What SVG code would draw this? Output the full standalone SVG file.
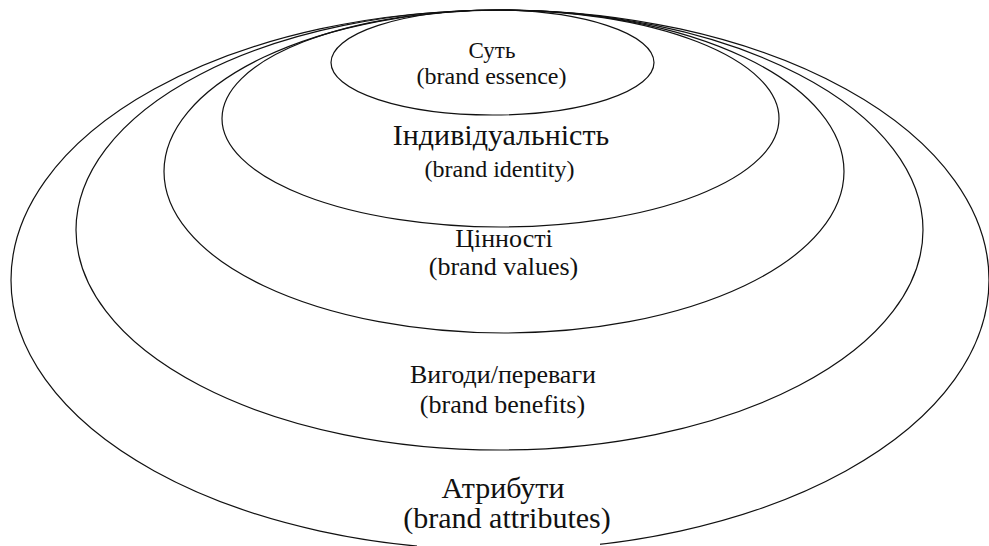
<svg xmlns="http://www.w3.org/2000/svg" width="989" height="546" viewBox="0 0 989 546">
  <style>
    .ring { fill: none; stroke: #111; stroke-width: 1.2; }
  </style>
  <rect x="0" y="0" width="989" height="546" fill="#fff"/>
  <g id="attributes">
    <ellipse class="ring" cx="500" cy="280" rx="489" ry="270"/>
    <rect x="417" y="462" width="183" height="84" fill="#fff"/>
    <text x="503" y="498" font-size="30" text-anchor="middle" fill="#111" font-family="Liberation Serif" style="font-family:'Liberation Serif',serif">Атрибути</text>
    <text x="507" y="528" font-size="30" text-anchor="middle" fill="#111" font-family="Liberation Serif" style="font-family:'Liberation Serif',serif">(brand attributes)</text>
  </g>
  <g id="benefits">
    <ellipse class="ring" cx="499.5" cy="230" rx="423.5" ry="220"/>
    <text x="503" y="383" font-size="26" text-anchor="middle" fill="#111" font-family="Liberation Serif" style="font-family:'Liberation Serif',serif">Вигоди/переваги</text>
    <text x="502.5" y="413" font-size="26" text-anchor="middle" fill="#111" font-family="Liberation Serif" style="font-family:'Liberation Serif',serif">(brand benefits)</text>
  </g>
  <g id="values">
    <ellipse class="ring" cx="504" cy="171.5" rx="340" ry="161.5"/>
    <text x="504" y="247" font-size="26" text-anchor="middle" fill="#111" font-family="Liberation Serif" style="font-family:'Liberation Serif',serif">Цінності</text>
    <text x="503.5" y="275" font-size="26" text-anchor="middle" fill="#111" font-family="Liberation Serif" style="font-family:'Liberation Serif',serif">(brand values)</text>
  </g>
  <g id="identity">
    <ellipse class="ring" cx="500.5" cy="118.5" rx="278.5" ry="108.5"/>
    <text x="501" y="145" font-size="30" text-anchor="middle" fill="#111" font-family="Liberation Serif" style="font-family:'Liberation Serif',serif">Індивідуальність</text>
    <text x="499.5" y="177" font-size="24" text-anchor="middle" fill="#111" font-family="Liberation Serif" style="font-family:'Liberation Serif',serif">(brand identity)</text>
  </g>
  <g id="essence">
    <ellipse class="ring" cx="492.5" cy="62.5" rx="161.5" ry="52.5"/>
    <text x="492" y="58" font-size="23" text-anchor="middle" fill="#111" font-family="Liberation Serif" style="font-family:'Liberation Serif',serif">Суть</text>
    <text x="491.5" y="84" font-size="24" text-anchor="middle" fill="#111" font-family="Liberation Serif" style="font-family:'Liberation Serif',serif">(brand essence)</text>
  </g>
  <g id="connectors"></g>
</svg>
